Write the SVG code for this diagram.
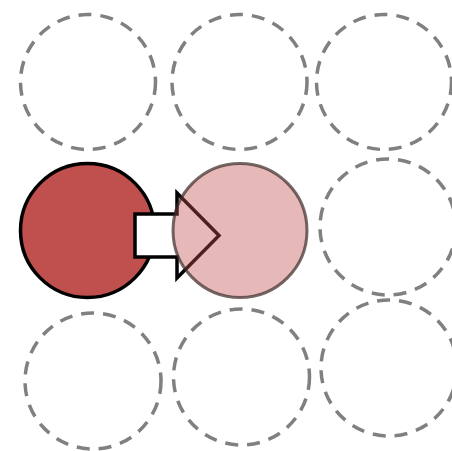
<svg xmlns="http://www.w3.org/2000/svg" width="452" height="451" viewBox="0 0 452 451">
  <style>
    .slot { fill: none; stroke: #808080; stroke-width: 3.5; stroke-dasharray: 13 9; }
    .src { fill: #c0504d; stroke: #000; stroke-width: 3.5; }
    .dst { fill: #c0504d; fill-opacity: 0.4; stroke: #3a2a2a; stroke-opacity: 0.7; stroke-width: 3; }
    .move { fill: #fff; stroke: #000; stroke-width: 3.5; stroke-linejoin: miter; }
  </style>
  <rect width="452" height="451" fill="#fff"/>
  <g id="slot-r1c1"><circle class="slot" cx="88" cy="82" r="67.5"/></g>
  <g id="slot-r1c2"><circle class="slot" cx="239.5" cy="82" r="67.5"/></g>
  <g id="slot-r1c3"><circle class="slot" cx="384" cy="82" r="67.5"/></g>
  <g id="slot-r2c3"><circle class="slot" cx="388" cy="227" r="68"/></g>
  <g id="slot-r3c1"><circle class="slot" cx="93" cy="381" r="68"/></g>
  <g id="slot-r3c2"><circle class="slot" cx="241.5" cy="377" r="68"/></g>
  <g id="slot-r3c3"><circle class="slot" cx="389" cy="368" r="68"/></g>
  <g id="source"><circle class="src" cx="87.5" cy="230.5" r="67"/></g>
  <g id="connectors">
    <path class="move" d="M135,214 H177 V193 L219,235.5 L177,278 V257 H135 Z"/>
  </g>
  <g id="target"><circle class="dst" cx="240" cy="230.5" r="67"/></g>
</svg>
